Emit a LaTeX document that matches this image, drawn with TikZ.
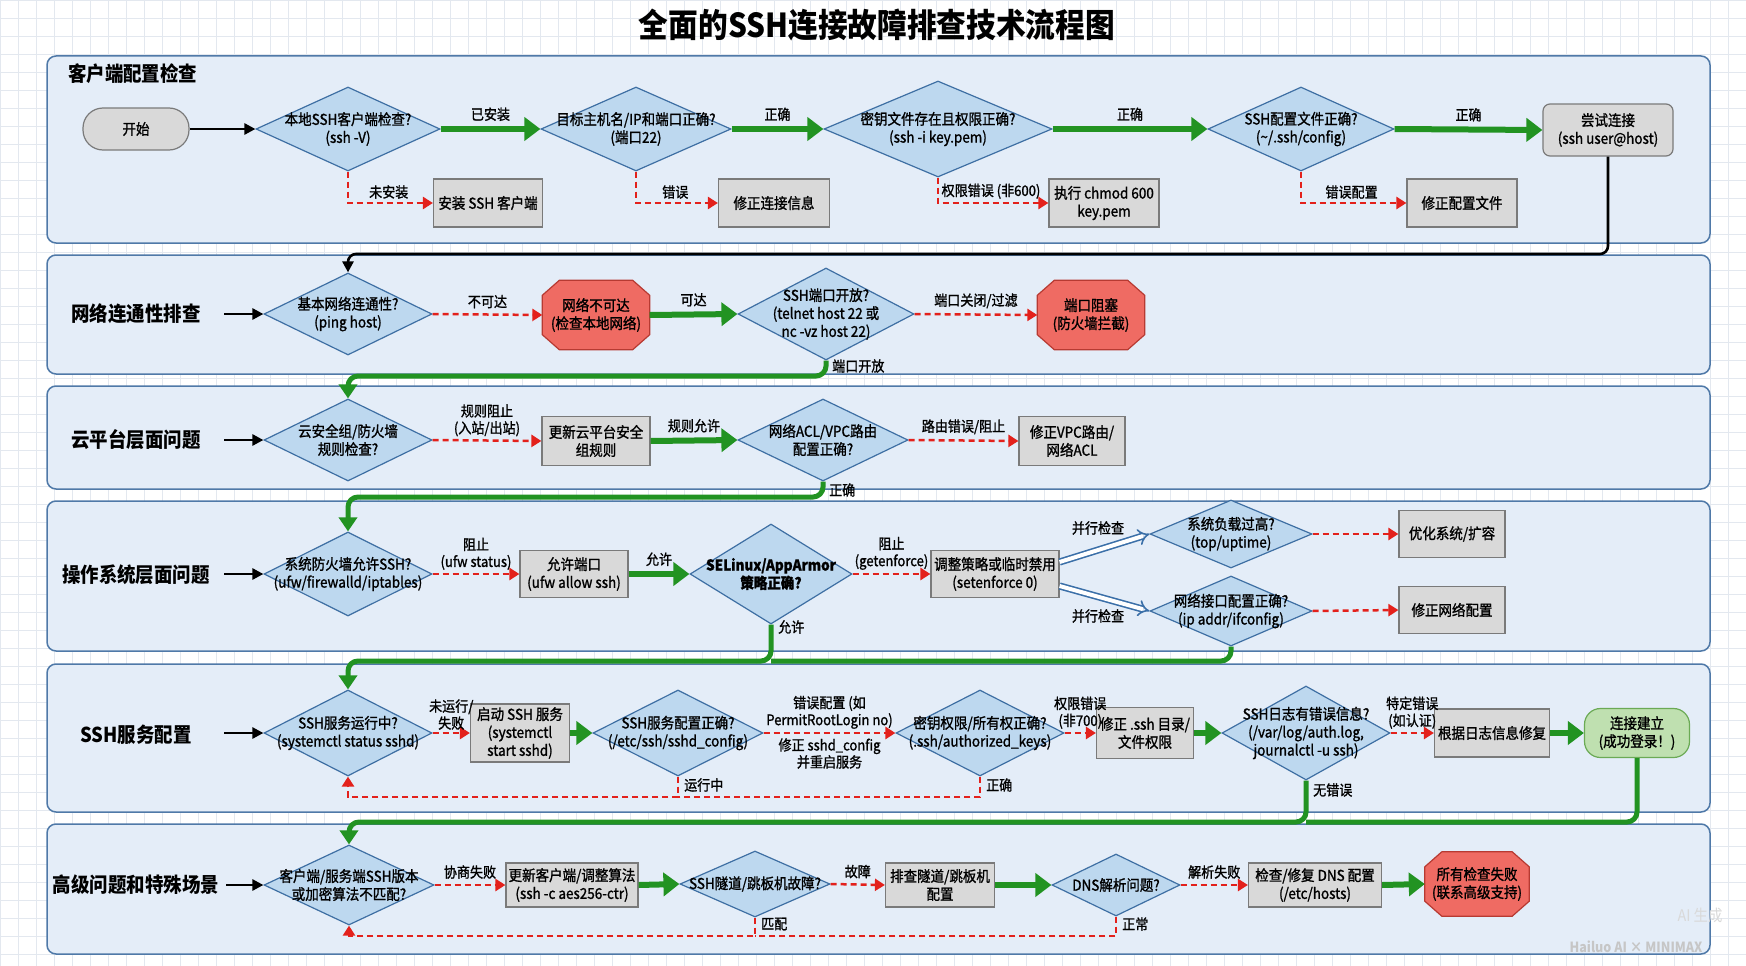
\documentclass[tikz,border=0pt]{standalone}
\usepackage{fontspec}
\setmainfont{Noto Sans CJK SC}[FakeStretch=0.9]
\newfontfamily\medfont{Noto Sans CJK SC}[FakeStretch=0.9, FakeBold=1.2]
\usetikzlibrary{shapes.geometric,shapes.misc,arrows.meta}
\definecolor{laneF}{HTML}{E4EDF8}
\definecolor{laneB}{HTML}{4F79A8}
\definecolor{diaF}{HTML}{BDD8EF}
\definecolor{diaB}{HTML}{3E6FA3}
\definecolor{boxF}{HTML}{D9D9D9}
\definecolor{boxB}{HTML}{7A7A7A}
\definecolor{octF}{HTML}{EF6B63}
\definecolor{octB}{HTML}{B73A32}
\definecolor{okF}{HTML}{BFE0B0}
\definecolor{okB}{HTML}{6BAA55}
\definecolor{grnC}{HTML}{229322}
\definecolor{redC}{HTML}{E3211C}
\definecolor{dblC}{HTML}{3A6FA8}
\definecolor{gridC}{HTML}{E3E8EF}
\newcommand\fNode{\medfont\fontsize{15}{18}\selectfont}
\newcommand\fLane{\fontsize{20.5}{24}\selectfont\bfseries}
\newcommand\fLbl{\medfont\fontsize{14.5}{17}\selectfont}
\newcommand\octshape[1]{%
  \filldraw[draw=octB, fill=octF, line width=1.2pt]
    ([xshift=17pt]#1.north west) -- ([xshift=-17pt]#1.north east)
    -- ([yshift=-15pt]#1.north east) -- ([yshift=15pt]#1.south east)
    -- ([xshift=-17pt]#1.south east) -- ([xshift=17pt]#1.south west)
    -- ([yshift=15pt]#1.south west) -- ([yshift=-15pt]#1.north west) -- cycle;}
\tikzset{
  lane/.style={draw=laneB, fill=laneF, line width=1.5pt, rounded corners=9pt},
  lanelbl/.style={font=\fLane, inner sep=0pt},
  dia/.style={diamond, draw=diaB, fill=diaF, line width=1.2pt, inner sep=0pt},
  dtxt/.style={align=center, font=\fNode, inner sep=0pt, text=black},
  box/.style={rectangle, draw=boxB, fill=boxF, line width=1.2pt, align=center, font=\fNode, inner sep=1pt},
  oct/.style={rectangle, draw=none, inner sep=0pt},
  okbox/.style={rectangle, rounded corners=16pt, draw=okB, fill=okF, line width=1.2pt, align=center, font=\fNode},
  startbox/.style={rectangle, rounded corners=20pt, draw=boxB, fill=boxF, line width=1.2pt, align=center, font=\fNode},
  elbl/.style={font=\fLbl, inner sep=1pt, align=center},
  blk/.style={draw=black, line width=2.6pt, rounded corners=8pt, -{Triangle[length=11pt,width=11pt]}},
  garr/.style={draw=grnC, line width=6pt, -{Triangle[length=16pt,width=23pt]}},
  glink/.style={draw=grnC, line width=5pt, rounded corners=10pt, -{Triangle[length=14pt,width=18pt]}},
  gjoin/.style={draw=grnC, line width=5pt, rounded corners=10pt},
  rdash/.style={draw=redC, line width=2.5pt, dash pattern=on 6pt off 4pt, -{Triangle[length=10pt,width=12pt]}},
  rjoin/.style={draw=redC, line width=2.5pt, dash pattern=on 6pt off 4pt},
  dbl/.style={draw=dblC, line width=1.6pt, double=white, double distance=4pt, -{Implies[scale=2]}},
}
\begin{document}
\begin{tikzpicture}[x=1pt,y=-1pt]
\useasboundingbox (0,0) rectangle (1746,966);
\fill[white] (0,0) rectangle (1746,966);
\foreach \gx in {0,18,...,1746} \draw[gridC, line width=0.6pt] (\gx,0) -- (\gx,966);
\foreach \gy in {0,18,...,966} \draw[gridC, line width=0.6pt] (0,\gy) -- (1746,\gy);

\node[font=\fontsize{33}{36}\selectfont\bfseries] (title) at (877,25) {全面的SSH连接故障排查技术流程图};

% lanes
\draw[lane] (47,56) rectangle (1710,243);
\draw[lane] (47,255) rectangle (1710,374);
\draw[lane] (47,386) rectangle (1710,489);
\draw[lane] (47,501) rectangle (1710,651);
\draw[lane] (47,664) rectangle (1710,812);
\draw[lane] (47,824) rectangle (1710,954);

\node[lanelbl, anchor=west] (L1) at (68,74) {客户端配置检查};
\node[lanelbl] (L2) at (136,314) {网络连通性排查};
\node[lanelbl] (L3) at (136,440) {云平台层面问题};
\node[lanelbl] (L4) at (136,575) {操作系统层面问题};
\node[lanelbl] (L5) at (136,735) {SSH服务配置};
\node[lanelbl] (L6) at (136,885) {高级问题和特殊场景};

% ---------- lane 1
\node[startbox, minimum width=106pt, minimum height=42pt] (start) at (136,129) {开始};
\node[dia, minimum width=184pt, minimum height=84pt] (d1) at (348,129) {};
\node[dtxt] (d1t) at (d1) {本地SSH客户端检查?\\(ssh -V)};
\node[dia, minimum width=190pt, minimum height=84pt] (d2) at (636,129) {};
\node[dtxt] (d2t) at (d2) {目标主机名/IP和端口正确?\\(端口22)};
\node[dia, minimum width=228pt, minimum height=96pt] (d3) at (938,129) {};
\node[dtxt] (d3t) at (d3) {密钥文件存在且权限正确?\\(ssh -i key.pem)};
\node[dia, minimum width=186pt, minimum height=84pt] (d4) at (1301,129) {};
\node[dtxt] (d4t) at (d4) {SSH配置文件正确?\\(\textasciitilde/.ssh/config)};
\node[box, rounded corners=7pt, minimum width=130pt, minimum height=52pt] (try) at (1608,130) {尝试连接\\(ssh user@host)};
\node[box, minimum width=109pt, minimum height=48pt] (b1) at (488,203) {安装 SSH 客户端};
\node[box, minimum width=111pt, minimum height=48pt] (b2) at (774,203) {修正连接信息};
\node[box, minimum width=110pt, minimum height=48pt] (b3) at (1104,203) {执行 chmod 600\\key.pem};
\node[box, minimum width=110pt, minimum height=48pt] (b4) at (1462,203) {修正配置文件};

\draw[blk] (start.east) -- (d1.west);
\draw[garr] (d1.east) -- node[elbl, above=4pt] (e1) {已安装} (d2.west);
\draw[garr] (d2.east) -- node[elbl, above=4pt] (e2) {正确} (d3.west);
\draw[garr] (d3.east) -- node[elbl, above=4pt] (e3) {正确} (d4.west);
\draw[garr] (d4.east) -- node[elbl, above=4pt] (e4) {正确} (try.west);
\draw[rdash] (d1.south) |- node[elbl, pos=0.74, above=2pt] (e5) {未安装} (b1.west);
\draw[rdash] (d2.south) |- node[elbl, pos=0.74, above=2pt] (e6) {错误} (b2.west);
\draw[rdash] (d3.south) |- node[elbl, pos=0.74, above=2pt] (e7) {权限错误 (非600)} (b3.west);
\draw[rdash] (d4.south) |- node[elbl, pos=0.74, above=2pt] (e8) {错误配置} (b4.west);

% ---------- lane 2
\coordinate (a2) at (224,314);
\node[dia, minimum width=168pt, minimum height=82pt] (d5) at (348,314) {};
\node[dtxt] (d5t) at (d5) {基本网络连通性?\\(ping host)};
\node[oct, minimum width=107pt, minimum height=69pt] (o1) at (596,315) {};
\octshape{o1}
\node[dtxt] (o1t) at (o1) {网络不可达\\(检查本地网络)};
\node[dia, minimum width=176pt, minimum height=92pt] (d6) at (826,314) {};
\node[dtxt] (d6t) at (d6) {SSH端口开放?\\(telnet host 22 或\\nc -vz host 22)};
\node[oct, minimum width=107pt, minimum height=69pt] (o2) at (1091,315) {};
\octshape{o2}
\node[dtxt] (o2t) at (o2) {端口阻塞\\(防火墙拦截)};

\coordinate (k1a) at (1608,254);
\coordinate (k1b) at (348,254);
\draw[blk] (try.south) -- (k1a) -- (k1b) -- (d5.north);
\draw[blk] (a2) -- (d5.west);
\draw[rdash] (d5.east) -- node[elbl, above=4pt] (e9) {不可达} (o1.west);
\draw[garr] (o1.east) -- node[elbl, above=4pt] (e10) {可达} (d6.west);
\draw[rdash] (d6.east) -- node[elbl, above=4pt] (e11) {端口关闭/过滤} (o2.west);

% ---------- lane 3
\coordinate (a3) at (224,440);
\node[dia, minimum width=168pt, minimum height=82pt] (d7) at (348,440) {};
\node[dtxt] (d7t) at (d7) {云安全组/防火墙\\规则检查?};
\node[box, minimum width=108pt, minimum height=49pt] (b5) at (596,441) {更新云平台安全\\组规则};
\node[dia, minimum width=170pt, minimum height=82pt] (d8) at (823,440) {};
\node[dtxt] (d8t) at (d8) {网络ACL/VPC路由\\配置正确?};
\node[box, minimum width=106pt, minimum height=49pt] (b6) at (1072,441) {修正VPC路由/\\网络ACL};

\coordinate (k2a) at (826,376);
\coordinate (k2b) at (348,376);
\draw[glink] (d6.south) -- (k2a) -- (k2b) -- (d7.north);
\node[elbl, anchor=west] (e12) at (831,366) {端口开放};
\draw[blk] (a3) -- (d7.west);
\draw[rdash] (d7.east) -- node[elbl, above=2pt] (e13) {规则阻止\\(入站/出站)} (b5.west);
\draw[garr] (b5.east) -- node[elbl, above=4pt] (e14) {规则允许} (d8.west);
\draw[rdash] (d8.east) -- node[elbl, above=4pt] (e15) {路由错误/阻止} (b6.west);

% ---------- lane 4
\coordinate (a4) at (224,574);
\node[dia, minimum width=168pt, minimum height=84pt] (d9) at (348,574) {};
\node[dtxt] (d9t) at (d9) {系统防火墙允许SSH?\\(ufw/firewalld/iptables)};
\node[box, minimum width=108pt, minimum height=47pt] (b7) at (574,574) {允许端口\\(ufw allow ssh)};
\node[dia, minimum width=162pt, minimum height=100pt] (d10) at (771,574) {};
\node[dtxt, font=\fNode\bfseries] (d10t) at (d10) {SELinux/AppArmor\\策略正确?};
\node[box, minimum width=128pt, minimum height=47pt] (b8) at (995,574) {调整策略或临时禁用\\(setenforce 0)};
\node[dia, minimum width=162pt, minimum height=68pt] (d11) at (1231,534) {};
\node[dtxt] (d11t) at (d11) {系统负载过高?\\(top/uptime)};
\node[box, minimum width=106pt, minimum height=47pt] (b9) at (1452,534) {优化系统/扩容};
\node[dia, minimum width=162pt, minimum height=70pt] (d12) at (1231,611) {};
\node[dtxt] (d12t) at (d12) {网络接口配置正确?\\(ip addr/ifconfig)};
\node[box, minimum width=106pt, minimum height=47pt] (b10) at (1452,610) {修正网络配置};

\coordinate (k3a) at (823,497);
\coordinate (k3b) at (348,497);
\draw[glink] (d8.south) -- (k3a) -- (k3b) -- (d9.north);
\node[elbl, anchor=west] (e16) at (828,490) {正确};
\draw[blk] (a4) -- (d9.west);
\draw[rdash] (d9.east) -- node[elbl, above=2pt] (e17) {阻止\\(ufw status)} (b7.west);
\draw[garr] (b7.east) -- node[elbl, above=4pt] (e18) {允许} (d10.west);
\draw[rdash] (d10.east) -- node[elbl, above=2pt] (e19) {阻止\\(getenforce)} (b8.west);
\draw[dbl] ([yshift=12pt]b8.east) -- (d11.west);
\draw[dbl] ([yshift=-12pt]b8.east) -- (d12.west);
\node[elbl] (e20) at (1098,528) {并行检查};
\node[elbl] (e21) at (1098,616) {并行检查};
\draw[rdash] (d11.east) -- (b9.west);
\draw[rdash] (d12.east) -- (b10.west);

% ---------- lane 5
\coordinate (a5) at (224,733);
\node[dia, minimum width=168pt, minimum height=86pt] (d13) at (348,733) {};
\node[dtxt] (d13t) at (d13) {SSH服务运行中?\\(systemctl status sshd)};
\node[box, minimum width=99pt, minimum height=58pt] (b11) at (520,733) {启动 SSH 服务\\(systemctl\\start sshd)};
\node[dia, minimum width=170pt, minimum height=86pt] (d14) at (678,733) {};
\node[dtxt] (d14t) at (d14) {SSH服务配置正确?\\(/etc/ssh/sshd\_config)};
\node[dia, minimum width=168pt, minimum height=86pt] (d15) at (980,733) {};
\node[dtxt] (d15t) at (d15) {密钥权限/所有权正确?\\(.ssh/authorized\_keys)};
\node[box, minimum width=97pt, minimum height=51pt] (b12) at (1145,733) {修正 .ssh 目录/\\文件权限};
\node[dia, minimum width=168pt, minimum height=94pt] (d16) at (1306,733) {};
\node[dtxt] (d16t) at (d16) {SSH日志有错误信息?\\(/var/log/auth.log,\\journalctl -u ssh)};
\node[box, minimum width=115pt, minimum height=48pt] (b13) at (1492,733) {根据日志信息修复};
\node[okbox, minimum width=105pt, minimum height=49pt] (g1) at (1637,733) {连接建立\\(成功登录！)};

\coordinate (k4a) at (771,661);
\coordinate (k4b) at (348,661);
\coordinate (k4c) at (1231,661);
\draw[glink] (d10.south) -- (k4a) -- (k4b) -- (d13.north);
\draw[gjoin] (d12.south) -- (k4c) -- (k4a);
\node[elbl, anchor=west] (e22) at (777,627) {允许};
\draw[blk] (a5) -- (d13.west);
\draw[rdash] (d13.east) -- node[elbl, above=1pt] (e23) {未运行/\\失败} (b11.west);
\draw[garr] (b11.east) -- (d14.west);
\draw[rdash] (d14.east) -- node[elbl, above=2pt] (e24) {错误配置 (如\\PermitRootLogin no)} node[elbl, below=3pt] (e25) {修正 sshd\_config\\并重启服务} (d15.west);
\draw[rdash] (d15.east) -- node[elbl, above=2pt] (e26) {权限错误\\(非700)} (b12.west);
\draw[garr] (b12.east) -- (d16.west);
\draw[rdash] (d16.east) -- node[elbl, above=2pt] (e27) {特定错误\\(如认证)} (b13.west);
\draw[garr] (b13.east) -- (g1.west);
\coordinate (k5a) at (678,797);
\coordinate (k5b) at (348,797);
\coordinate (k5c) at (980,797);
\draw[rdash] (d14.south) -- (k5a) -- (k5b) -- (d13.south);
\draw[rjoin] (d15.south) -- (k5c) -- (k5a);
\node[elbl, anchor=west] (e28) at (683,785) {运行中};
\node[elbl, anchor=west] (e29) at (985,785) {正确};

% ---------- lane 6
\coordinate (a6) at (226,885);
\node[dia, minimum width=170pt, minimum height=80pt] (d17) at (349,885) {};
\node[dtxt] (d17t) at (d17) {客户端/服务端SSH版本\\或加密算法不匹配?};
\node[box, minimum width=132pt, minimum height=44pt] (b14) at (572,885) {更新客户端/调整算法\\(ssh -c aes256-ctr)};
\node[dia, minimum width=150pt, minimum height=66pt] (d18) at (755,884) {};
\node[dtxt] (d18t) at (d18) {SSH隧道/跳板机故障?};
\node[box, minimum width=109pt, minimum height=44pt] (b15) at (940,885) {排查隧道/跳板机\\配置};
\node[dia, minimum width=128pt, minimum height=62pt] (d19) at (1116,885) {};
\node[dtxt] (d19t) at (d19) {DNS解析问题?};
\node[box, minimum width=133pt, minimum height=44pt] (b16) at (1315,885) {检查/修复 DNS 配置\\(/etc/hosts)};
\node[oct, minimum width=104pt, minimum height=64pt] (o3) at (1477,884) {};
\octshape{o3}
\node[dtxt] (o3t) at (o3) {所有检查失败\\(联系高级支持)};

\coordinate (k6a) at (1306,822);
\coordinate (k6b) at (349,822);
\coordinate (k6c) at (1637,822);
\draw[glink] (d16.south) -- (k6a) -- (k6b) -- (d17.north);
\draw[gjoin] (g1.south) -- (k6c) -- (k6a);
\node[elbl, anchor=west] (e30) at (1312,790) {无错误};
\draw[blk] (a6) -- (d17.west);
\draw[rdash] (d17.east) -- node[elbl, above=4pt] (e31) {协商失败} (b14.west);
\draw[garr] (b14.east) -- (d18.west);
\draw[rdash] (d18.east) -- node[elbl, above=4pt] (e32) {故障} (b15.west);
\draw[garr] (b15.east) -- (d19.west);
\draw[rdash] (d19.east) -- node[elbl, above=4pt] (e33) {解析失败} (b16.west);
\draw[garr] (b16.east) -- (o3.west);
\coordinate (k7a) at (755,936);
\coordinate (k7b) at (349,936);
\coordinate (k7c) at (1116,936);
\draw[rdash] (d18.south) -- (k7a) -- (k7b) -- (d17.south);
\draw[rjoin] (d19.south) -- (k7c) -- (k7a);
\node[elbl, anchor=west] (e34) at (760,924) {匹配};
\node[elbl, anchor=west] (e35) at (1121,924) {正常};

% watermarks
\node[text=gray!30, font=\fontsize{16}{18}\selectfont] (wm1) at (1700,915) {AI 生成};
\node[text=gray!45, font=\fontsize{14}{16}\selectfont\bfseries] (wm2) at (1636,947) {Hailuo AI × MINIMAX};
\end{tikzpicture}
\end{document}
